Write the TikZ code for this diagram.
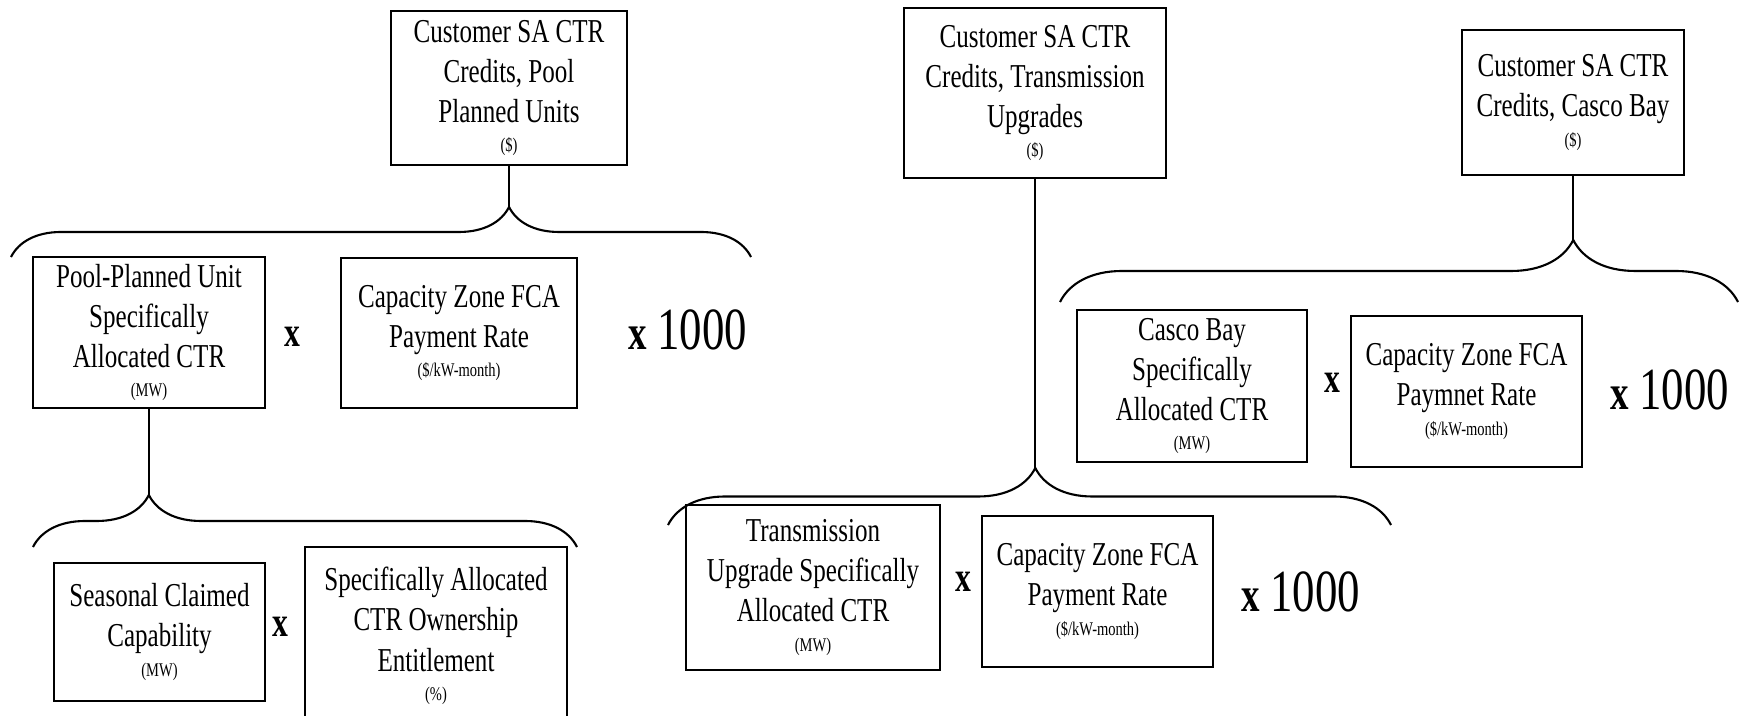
\documentclass[tikz,border=0pt]{standalone}
\usepackage{fontspec}
\setmainfont[FakeStretch=0.75]{Liberation Serif}
\usetikzlibrary{decorations.pathreplacing}

\newcommand{\unitline}[1]{\\[-3pt]{\fontsize{5.5}{6}\selectfont #1}}
\newcommand{\timesk}{{\bfseries\fontsize{14}{16}\selectfont x}\,1000}

\tikzset{
  ctrbox/.style={draw, line width=0.6pt, align=center, inner sep=0pt,
    font=\fontsize{9.5}{11.4}\selectfont},
  times/.style={font=\fontsize{12}{14}\selectfont\bfseries},
  scalek/.style={font=\fontsize{17}{20}\selectfont},
  bracket/.style={decorate, line width=0.6pt},
}

\begin{document}
\begin{tikzpicture}[x=0.01cm, y=-0.01cm]
  \useasboundingbox (0,0) rectangle (1743,715);
  \clip (0,0) rectangle (1743,715);

  \node[ctrbox, minimum width=2.35cm, minimum height=1.54cm] (pool) at (509,88) {Customer SA CTR\\Credits, Pool\\Planned Units\unitline{(\$)}};
  \node[ctrbox, minimum width=2.32cm, minimum height=1.51cm] (ppu) at (149,332.5) {Pool-Planned Unit\\Specifically\\Allocated CTR\unitline{(MW)}};
  \node[times] (x1) at (292,337) {x};
  \node[ctrbox, minimum width=2.36cm, minimum height=1.50cm] (poolrate) at (459,333) {Capacity Zone FCA\\Payment Rate\unitline{(\$/kW-month)}};
  \node[scalek] (k1) at (688,330) {\timesk};
  \node[ctrbox, minimum width=2.11cm, minimum height=1.38cm] (scc) at (159.5,632) {Seasonal Claimed\\Capability\unitline{(MW)}};
  \node[times] (x2) at (280,627) {x};
  \node[ctrbox, minimum width=2.62cm, minimum height=1.78cm] (own) at (436,636) {Specifically Allocated\\CTR Ownership\\Entitlement\unitline{(\%)}};

  \node[ctrbox, minimum width=2.61cm, minimum height=1.70cm] (trans) at (1035,93) {Customer SA CTR\\Credits, Transmission\\Upgrades\unitline{(\$)}};
  \node[ctrbox, minimum width=2.54cm, minimum height=1.65cm] (tusa) at (813,587.5) {Transmission\\Upgrade Specifically\\Allocated CTR\unitline{(MW)}};
  \node[times] (x3) at (963,582) {x};
  \node[ctrbox, minimum width=2.31cm, minimum height=1.51cm] (transrate) at (1097.5,591.5) {Capacity Zone FCA\\Payment Rate\unitline{(\$/kW-month)}};
  \node[scalek] (k2) at (1301,592) {\timesk};

  \node[ctrbox, minimum width=2.22cm, minimum height=1.45cm] (casco) at (1573,102.5) {Customer SA CTR\\Credits, Casco Bay\unitline{(\$)}};
  \node[ctrbox, minimum width=2.30cm, minimum height=1.52cm] (cbsa) at (1192,386) {Casco Bay\\Specifically\\Allocated CTR\unitline{(MW)}};
  \node[times] (x4) at (1332,383) {x};
  \node[ctrbox, minimum width=2.31cm, minimum height=1.51cm] (cascorate) at (1466.5,391.5) {Capacity Zone FCA\\Paymnet Rate\unitline{(\$/kW-month)}};
  \node[scalek] (k3) at (1670,390) {\timesk};

  % brace ends and tips
  \coordinate (b1l) at (11,257);   \coordinate (b1r) at (751,257);  \coordinate (t1) at (509,207);
  \coordinate (b2l) at (33,547);   \coordinate (b2r) at (577,547);  \coordinate (t2) at (149,495);
  \coordinate (b3l) at (668,525);  \coordinate (b3r) at (1391,525); \coordinate (t3) at (1035,468);
  \coordinate (b4l) at (1060,302); \coordinate (b4r) at (1738,302); \coordinate (t4) at (1573,240);

  \draw[bracket, decoration={brace, amplitude=0.5cm, aspect=0.673}] (b1l) -- (b1r);
  \draw[bracket, decoration={brace, amplitude=0.52cm, aspect=0.213}] (b2l) -- (b2r);
  \draw[bracket, decoration={brace, amplitude=0.57cm, aspect=0.508}] (b3l) -- (b3r);
  \draw[bracket, decoration={brace, amplitude=0.62cm, aspect=0.757}] (b4l) -- (b4r);

  \draw[line width=0.6pt] (pool.south) -- (t1);
  \draw[line width=0.6pt] (ppu.south) -- (t2);
  \draw[line width=0.6pt] (trans.south) -- (t3);
  \draw[line width=0.6pt] (casco.south) -- (t4);
\end{tikzpicture}
\end{document}
